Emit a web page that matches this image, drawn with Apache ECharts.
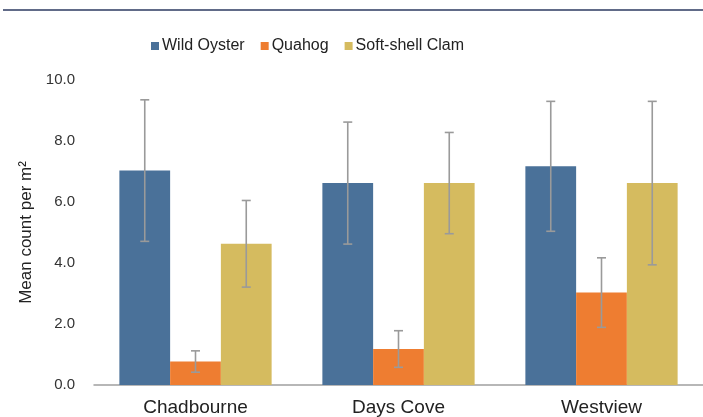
<!DOCTYPE html>
<html>
<head>
<meta charset="utf-8" />
<title>Mean count per m2</title>
<script src="https://cdn.jsdelivr.net/npm/echarts@6/dist/echarts.min.js"></script>
<style>
  html, body { margin: 0; padding: 0; background: #fff; }
  #main { width: 703px; height: 417px; }
</style>
</head>
<body>
<div id="main"></div>
<script>
// sites and species
var sites = ['Chadbourne', 'Days Cove', 'Westview'];
var speciesNames = ['Wild Oyster', 'Quahog', 'Soft-shell Clam'];

// mean values
var wildOyster = [7.03, 6.62, 7.17];
var quahog = [0.77, 1.18, 3.03];
var softShell = [4.63, 6.62, 6.62];

// error bar half-lengths
var wildOysterErr = [2.32, 2.0, 2.13];
var quahogErr = [0.35, 0.6, 1.14];
var softShellErr = [1.42, 1.66, 2.68];

var colors = ['#4a7199', '#ee7d31', '#d5bb5f'];
var fontFam = '"Liberation Sans", Arial, sans-serif';

var means = [wildOyster, quahog, softShell];
var errs = [wildOysterErr, quahogErr, softShellErr];

var chart = echarts.init(document.getElementById('main'), null, { renderer: 'canvas' });

function errorSeries(idx) {
  var rows = [];
  for (var i = 0; i < sites.length; i++) {
    rows.push([i, means[idx][i] - errs[idx][i], means[idx][i] + errs[idx][i]]);
  }
  return {
    type: 'custom',
    name: speciesNames[idx] + ' err',
    z: 10,
    silent: true,
    data: rows,
    renderItem: function (params, api) {
      var lo = api.coord([api.value(0), api.value(1)]);
      var hi = api.coord([api.value(0), api.value(2)]);
      var catW = api.size([1, 0])[0];
      var bw = catW * 0.75 / 3;
      var x = lo[0] + (idx - 1) * bw;
      var cap = 4.5;
      var st = { stroke: '#9a9a9a', lineWidth: 1.6 };
      return {
        type: 'group',
        children: [
          { type: 'line', shape: { x1: x, y1: lo[1], x2: x, y2: hi[1] }, style: st },
          { type: 'line', shape: { x1: x - cap, y1: hi[1], x2: x + cap, y2: hi[1] }, style: st },
          { type: 'line', shape: { x1: x - cap, y1: lo[1], x2: x + cap, y2: lo[1] }, style: st }
        ]
      };
    }
  };
}

var series = [];
for (var s = 0; s < speciesNames.length; s++) {
  series.push({
    name: speciesNames[s],
    type: 'bar',
    data: means[s],
    barGap: '0%',
    barCategoryGap: '25%',
    itemStyle: { color: colors[s] }
  });
}
for (var s2 = 0; s2 < speciesNames.length; s2++) {
  series.push(errorSeries(s2));
}

var option = {
  animation: false,
  backgroundColor: '#fff',
  color: colors,
  graphic: [
    {
      type: 'line',
      shape: { x1: 3, y1: 10, x2: 703, y2: 10 },
      style: { stroke: '#2d3a60', lineWidth: 1.5 }
    }
  ],
  legend: {
    data: speciesNames,
    top: 33,
    left: 146,
    itemWidth: 8,
    itemHeight: 8,
    itemGap: 16,
    icon: 'rect',
    textStyle: { fontFamily: fontFam, fontSize: 16, color: '#222', padding: [0, 0, 0, -2] }
  },
  grid: { left: 94, right: 0, top: 80, bottom: 31, containLabel: false },
  xAxis: {
    type: 'category',
    data: sites,
    axisLine: { lineStyle: { color: '#a0a0a0', width: 1.5 } },
    axisTick: { show: false },
    axisLabel: { fontFamily: fontFam, fontSize: 19, color: '#222', margin: 13 }
  },
  yAxis: {
    type: 'value',
    min: 0,
    max: 10,
    interval: 2,
    name: 'Mean count per m²',
    nameLocation: 'middle',
    nameGap: 58,
    nameTextStyle: { fontFamily: fontFam, fontSize: 17, color: '#222' },
    splitLine: { show: false },
    axisLine: { show: false },
    axisTick: { show: false },
    axisLabel: {
      fontFamily: fontFam,
      fontSize: 15,
      color: '#333',
      margin: 19,
      formatter: function (v) { return v.toFixed(1); }
    }
  },
  series: series
};

chart.setOption(option);
</script>
</body>
</html>
